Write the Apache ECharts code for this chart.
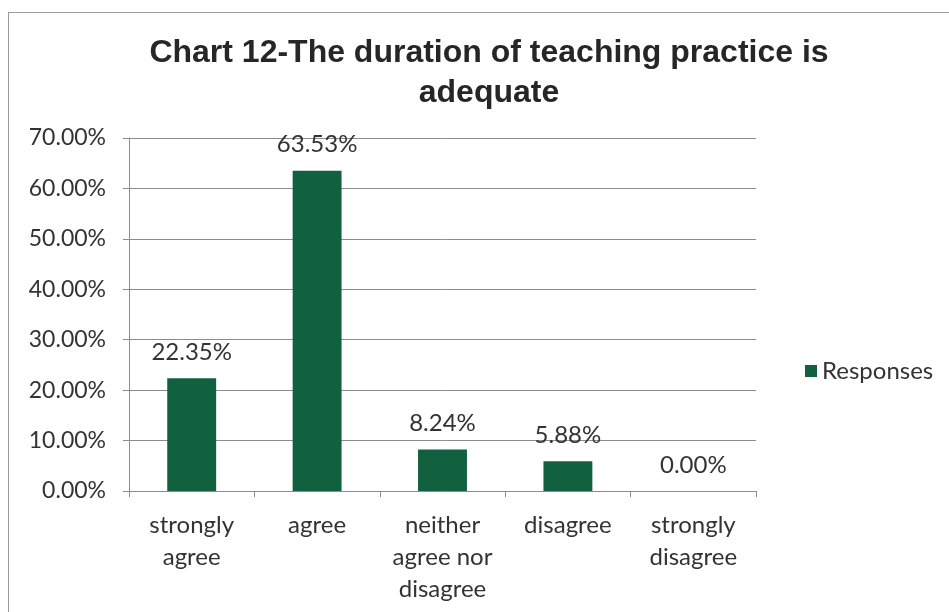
<!DOCTYPE html>
<html>
<head>
    <meta charset="utf-8">
    <title>Chart 12</title>
    <script src="https://cdn.jsdelivr.net/npm/echarts@6/dist/echarts.min.js"></script>
    <style>
        html, body { margin: 0; padding: 0; background: #fff; }
        #frame { position: absolute; left: 8px; top: 12px; width: 960px; height: 620px; border: 1px solid #9a9a9a; }
    </style>
</head>
<body>
    <div id="frame"></div>
    <div id="main" style="position:absolute;left:0;top:0;width: 949px;height:612px;"></div>
    <script type="text/javascript">
        var categories = ['strongly\nagree', 'agree', 'neither\nagree nor\ndisagree', 'disagree', 'strongly\ndisagree'];
        var responses = [22.35, 63.53, 8.24, 5.88, 0.00];
        var seriesName = 'Responses';

        var myChart = echarts.init(document.getElementById('main'));

        var option = {
            title: {
                text: 'Chart 12-The duration of teaching practice is\nadequate',
                left: 484,
                textAlign: 'center',
                top: 28,
                textStyle: {
                    fontFamily: 'Liberation Sans',
                    fontWeight: 'bold',
                    fontSize: 32,
                    lineHeight: 40,
                    color: '#262626'
                }
            },
            legend: {
                data: [seriesName],
                left: 800,
                top: 354,
                itemWidth: 12,
                itemHeight: 12,
                itemGap: 6,
                icon: 'rect',
                textStyle: { fontFamily: 'Lato', fontSize: 24, color: '#333' }
            },
            grid: {
                left: 129,
                right: 193,
                top: 138,
                bottom: 121
            },
            xAxis: {
                type: 'category',
                data: categories,
                axisLine: { lineStyle: { color: '#8c8c8c' } },
                axisTick: { show: true, length: 6, lineStyle: { color: '#8c8c8c' } },
                axisLabel: {
                    fontFamily: 'Lato',
                    fontSize: 24,
                    lineHeight: 32,
                    color: '#333',
                    margin: 18,
                    interval: 0
                }
            },
            yAxis: {
                type: 'value',
                min: 0,
                max: 70,
                interval: 10,
                axisLine: { show: true, lineStyle: { color: '#8c8c8c' } },
                axisTick: { show: true, length: 6, lineStyle: { color: '#8c8c8c' } },
                splitLine: { lineStyle: { color: '#8c8c8c' } },
                axisLabel: {
                    fontFamily: 'Lato',
                    fontSize: 23,
                    color: '#333',
                    margin: 23,
                    formatter: function (v) { return v.toFixed(2) + '%'; }
                }
            },
            series: [{
                name: seriesName,
                type: 'bar',
                data: responses,
                barWidth: '39%',
                itemStyle: { color: '#11603f' },
                label: {
                    show: true,
                    position: 'top',
                    distance: 14,
                    fontFamily: 'Lato',
                    fontSize: 24,
                    color: '#333',
                    formatter: function (p) { return p.value.toFixed(2) + '%'; }
                }
            }]
        };

        myChart.setOption(option);
    </script>
</body>
</html>
